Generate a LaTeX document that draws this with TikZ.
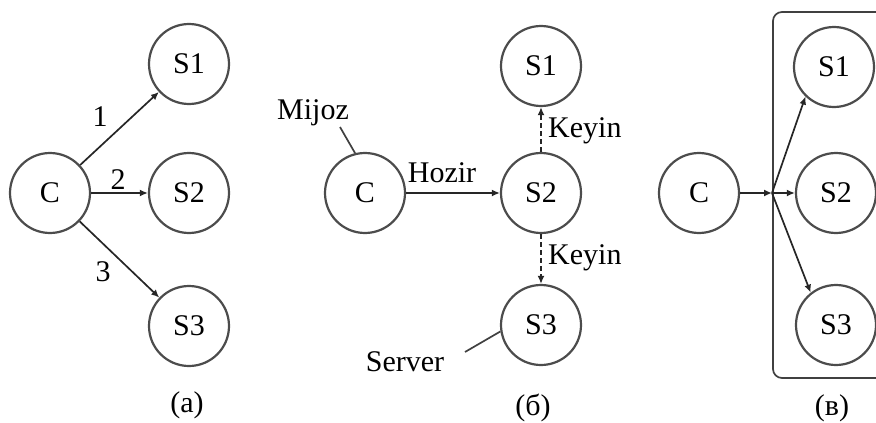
\documentclass[tikz,border=0pt]{standalone}
\usepackage{fontspec}
\setmainfont{Liberation Serif}
\newfontfamily\tms{Liberation Serif}
\usetikzlibrary{arrows.meta}
\begin{document}
\begin{tikzpicture}[x=1pt,y=-1pt,
  srv/.style={circle,draw=black!70,line width=2.2pt,minimum size=80pt,inner sep=0pt,font=\tms\fontsize{30}{32}\selectfont},
  lbl/.style={font=\tms\fontsize{30}{32}\selectfont,inner sep=0pt},
  conn/.style={draw=black!85,line width=1.7pt,-{Latex[length=8pt,width=7pt]}},
  dconn/.style={conn,dash pattern=on 5pt off 3pt},
  lead/.style={draw=black!75,line width=1.7pt}]
\useasboundingbox (0,0) rectangle (876,423);
% panel (a)
\node[srv] (Ca) at (50,193) {C};
\node[srv] (S1a) at (189,64) {S1};
\node[srv] (S2a) at (189,193) {S2};
\node[srv] (S3a) at (189,326) {S3};
\draw[conn] (Ca) -- (S1a);
\draw[conn] (Ca) -- (S2a);
\draw[conn] (Ca) -- (S3a);
\node[lbl] (l1) at (100,117) {1};
\node[lbl] (l2) at (118,180) {2};
\node[lbl] (l3) at (103,272) {3};
\node[lbl] (capa) at (187,405) {(a)};
% panel (b)
\node[srv] (Cb) at (365,193) {C};
\node[srv] (S1b) at (541,66) {S1};
\node[srv] (S2b) at (541,193) {S2};
\node[srv] (S3b) at (541,325) {S3};
\draw[conn] (Cb) -- (S2b);
\draw[dconn] (S2b) -- (S1b);
\draw[dconn] (S2b) -- (S3b);
\node[lbl] (hozir) at (442,173) {Hozir};
\node[lbl,anchor=west] (k1) at (548,131) {Keyin};
\node[lbl,anchor=west] (k2) at (548,258) {Keyin};
\node[lbl] (mijoz) at (313,113) {Mijoz};
\node[lbl] (server) at (405,362) {Server};
\coordinate (mj) at (340,127);
\coordinate (sv) at (465,352);
\draw[lead] (mj) -- (Cb.104);
\draw[lead] (sv) -- (S3b.189);
\node[lbl] (capb) at (533,408) {(б)};
% panel (c)
\node[srv] (Cc) at (699,193) {C};
\node[srv] (S1c) at (834,67) {S1};
\node[srv] (S2c) at (836,193) {S2};
\node[srv] (S3c) at (836,325) {S3};
\coordinate (J) at (772,193);
\draw[lead,rounded corners=9pt] (880,12) -- (773,12) -- (773,378) -- (880,378);
\draw[conn] (Cc) -- (J);
\draw[conn] (J) -- (S1c.226);
\draw[conn] (J) -- (S2c);
\draw[conn] (J) -- (S3c.128);
\node[lbl] (capc) at (832,408) {(в)};
\end{tikzpicture}
\end{document}
